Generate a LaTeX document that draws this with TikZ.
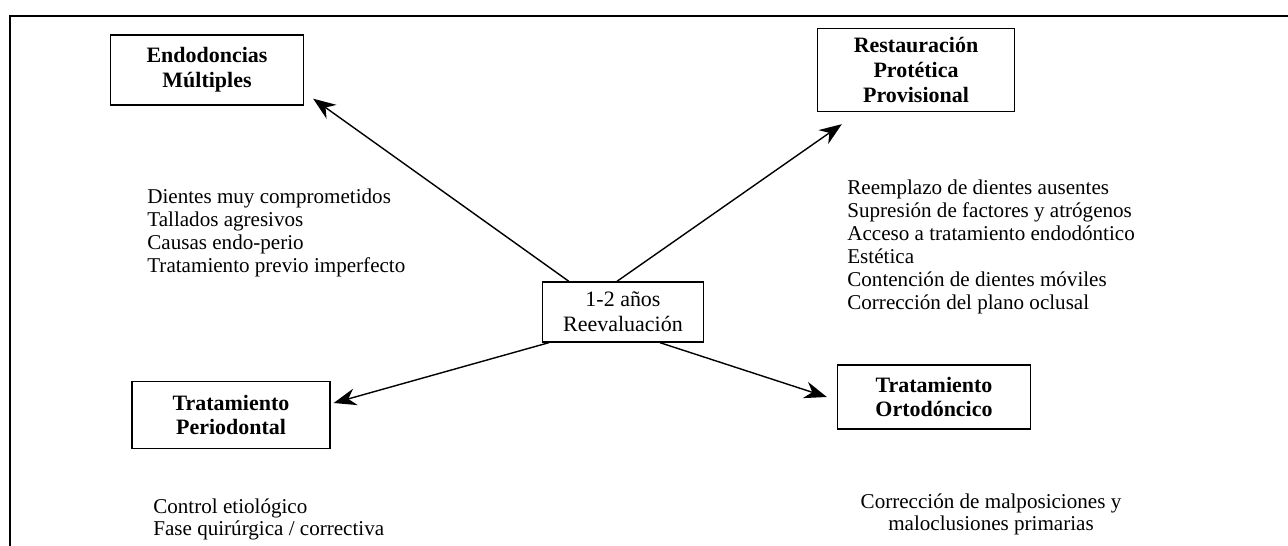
\documentclass[tikz,border=0pt]{standalone}
\usepackage{fontspec}
\setmainfont{Liberation Serif}
\usetikzlibrary{positioning, arrows.meta, calc}
\tikzset{
  titlebox/.style={rectangle, draw=black, thick, align=center, font=\fontsize{12.5}{14}\selectfont\bfseries},
  centerbox/.style={rectangle, draw=black, thick, align=center, minimum width=3.22cm, minimum height=1.2cm, font=\fontsize{12.5}{14}\selectfont},
  notes/.style={align=left, inner sep=0pt, font=\fontsize{12}{13}\selectfont},
  arrow/.style={thick, -{Stealth[length=0.45cm, width=0.34cm]}}
}
\begin{document}
\begin{tikzpicture}[x=0.02cm, y=-0.02cm]
        \useasboundingbox (0,0) rectangle (1288,546);
        % frame
        \draw [thick] (10,546) -- (10,16) -- (1288,16);

        \node (reev) [centerbox] at (623,312) {1-2 años\\Reevaluación};
        \node (endo) [titlebox, minimum width=3.86cm, minimum height=1.4cm] at (207,70) {Endodoncias\\Múltiples};
        \node (resto) [titlebox, minimum width=3.94cm, minimum height=1.66cm] at (916,70) {Restauración\\Protética\\Provisional};
        \node (perio) [titlebox, minimum width=3.96cm, minimum height=1.34cm] at (231,415) {Tratamiento\\Periodontal};
        \node (orto) [titlebox, minimum width=3.86cm, minimum height=1.28cm] at (934,397) {Tratamiento\\Ortodóncico};

        \node (endonotes) [notes, anchor=north west] at (147,189) {Dientes muy comprometidos\\Tallados agresivos\\Causas endo-perio\\Tratamiento previo imperfecto};
        \node (restonotes) [notes, anchor=north west] at (847,180) {Reemplazo de dientes ausentes\\Supresión de factores y atrógenos\\Acceso a tratamiento endodóntico\\Estética\\Contención de dientes móviles\\Corrección del plano oclusal};
        \node (perionotes) [notes, anchor=north west] at (153,498) {Control etiológico\\Fase quirúrgica / correctiva};
        \node (ortonotes) [notes, align=center, anchor=north] at (991,493) {Corrección de malposiciones y\\maloclusiones primarias};

        \draw [arrow] ([xshift=0.54cm]reev.north west) -- ([shift={(0.18cm,0.14cm)}]endo.south east);
        \draw [arrow] ([xshift=-0.12cm]reev.north) -- ([shift={(0.5cm,-0.24cm)}]resto.south west);
        \draw [arrow] ([xshift=0.14cm]reev.south west) -- ([shift={(0.06cm,0.24cm)}]perio.east);
        \draw [arrow] ([xshift=0.74cm]reev.south) -- ([xshift=-0.2cm]orto.west);
    \end{tikzpicture}
\end{document}
